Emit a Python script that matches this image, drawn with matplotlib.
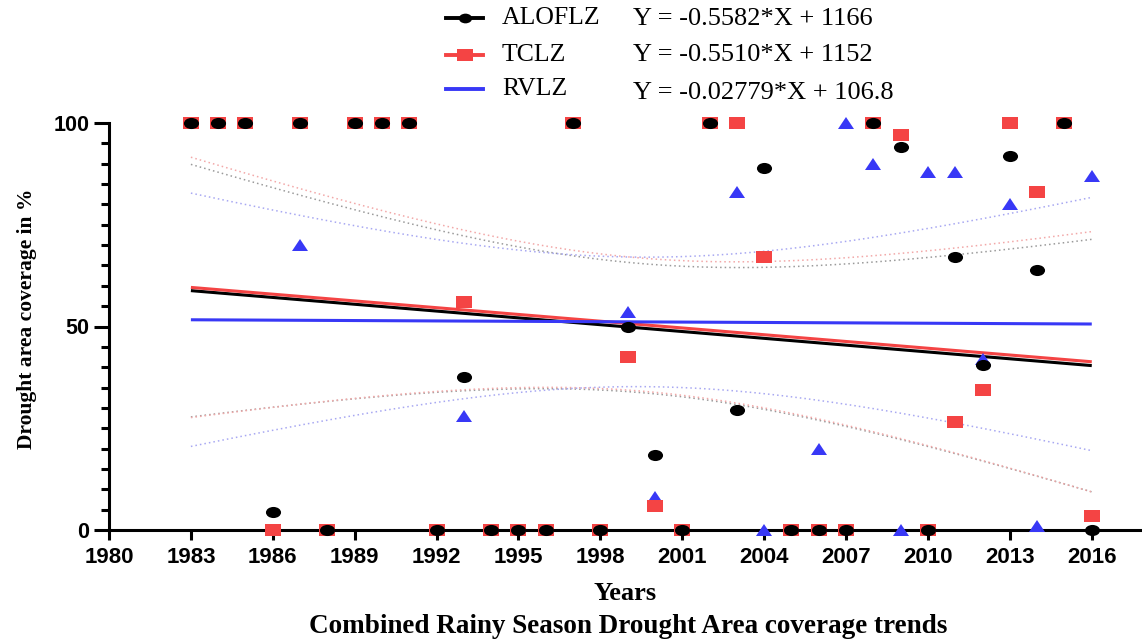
import numpy as np
import matplotlib.pyplot as plt
from matplotlib.lines import Line2D
from matplotlib.markers import MarkerStyle
from matplotlib.transforms import Affine2D
from matplotlib.ticker import MultipleLocator

years = np.arange(1983, 2017)

# ALOFLZ (black circles)
aloflz = [100, 100, 100, 4.5, 100, 0, 100, 100, 100, 0,
          37.5, 0, 0, 0, 100, 0, 50, 18.5, 0, 100,
          29.5, 89, 0, 0, 0, 100, 94, 0, 67, 40.5,
          92, 64, 100, 0]
# TCLZ (red squares)
tclz = [100, 100, 100, 0, 100, 0, 100, 100, 100, 0,
        56, 0, 0, 0, 100, 0, 42.5, 6, 0, 100,
        100, 67, 0, 0, 0, 100, 97, 0, 26.5, 34.5,
        100, 83, 100, 3.5]
# RVLZ (blue triangles)
rvlz = [100, 100, 100, 0, 70, 0, 100, 100, 100, 0,
        28, 0, 0, 0, 100, 0, 53.5, 8, 0, 100,
        83, 0, 0, 20, 100, 90, 0, 88, 88, 42,
        80, 1, 100, 87]

names = ["ALOFLZ", "TCLZ", "RVLZ"]
equations = ["Y = -0.5582*X + 1166", "Y = -0.5510*X + 1152", "Y = -0.02779*X + 106.8"]

black = "#000000"
red = "#F44444"
blue = "#3838F6"
band_cols = ["#9a9a9a", "#F2A8A8", "#A8A8F2"]

serif = "Liberation Serif"
sans = "Liberation Sans"

fig = plt.figure(figsize=(11.42, 6.43), dpi=100)
ax = fig.add_axes([109 / 1142, 113 / 643, 1 - 109 / 1142, 407 / 643])

circ = MarkerStyle("o", transform=Affine2D().scale(1.36, 1.0))
sq = MarkerStyle("s", transform=Affine2D().scale(1.36, 1.0))
tri = MarkerStyle("^", transform=Affine2D().scale(1.3, 1.0))

# regression lines + 95% confidence bands (dotted)
xs = np.linspace(1983, 2016, 200)
t32 = 2.037
series = [aloflz, tclz, rvlz]
cols = [black, red, blue]
for vals, c, bc in zip(series, cols, band_cols):
    y = np.array(vals, dtype=float)
    b, a = np.polyfit(years, y, 1)
    res = y - (a + b * years)
    s = np.sqrt(np.sum(res ** 2) / (len(y) - 2))
    sxx = np.sum((years - years.mean()) ** 2)
    se = s * np.sqrt(1 / len(y) + (xs - years.mean()) ** 2 / sxx)
    fit = a + b * xs
    ax.plot(xs, fit + t32 * se, color=bc, lw=1.1, ls=(0, (1, 2)), zorder=1)
    ax.plot(xs, fit - t32 * se, color=bc, lw=1.1, ls=(0, (1, 2)), zorder=1)
    ax.plot(xs, fit, color=c, lw=2.2, zorder=2, solid_capstyle="butt")

ax.plot(years, rvlz, ls="none", marker=tri, ms=8.5, color=blue, mew=0, clip_on=False, zorder=3)
ax.plot(years, tclz, ls="none", marker=sq, ms=8, color=red, mew=0, clip_on=False, zorder=4)
ax.plot(years, aloflz, ls="none", marker=circ, ms=8, color=black, mew=0, clip_on=False, zorder=5)

ax.set_xlim(1980, 2017.84)
ax.set_ylim(0, 100)
for sp in ["top", "right"]:
    ax.spines[sp].set_visible(False)
for sp in ["left", "bottom"]:
    ax.spines[sp].set_linewidth(2.2)

ax.set_xticks(np.arange(1980, 2017, 3))
ax.set_yticks([0, 50, 100])
ax.yaxis.set_minor_locator(MultipleLocator(5))
ax.tick_params(axis="x", direction="out", length=7, width=2.2, pad=5)
ax.tick_params(axis="y", which="major", direction="out", length=10.8, width=2.2, pad=3.5)
ax.tick_params(axis="y", which="minor", direction="out", length=5.8, width=2.2)
for lab in ax.get_xticklabels():
    lab.set_fontfamily(sans)
    lab.set_fontweight("bold")
    lab.set_fontsize(16)
for lab in ax.get_yticklabels():
    lab.set_fontfamily(sans)
    lab.set_fontweight("bold")
    lab.set_fontsize(15.5)

ax.set_xlabel("Years", fontfamily=serif, fontweight="bold", fontsize=19, labelpad=10)
ax.set_ylabel("Drought area coverage in %", fontfamily=serif, fontweight="bold",
              fontsize=15.5, labelpad=14)
ax.yaxis.set_label_coords(-0.07, 0.52)
fig.text(0.55, 4 / 643, "Combined Rainy Season Drought Area coverage trends",
         ha="center", va="bottom", fontfamily=serif, fontweight="bold", fontsize=19.5)

# legend drawn by hand
rows_y = [18, 55, 89]
eq_y = [19, 55, 93]
leg_markers = [circ, sq, None]
for name, eq, c, m, ry, ey in zip(names, equations, cols, leg_markers, rows_y, eq_y):
    yy = 1 - ry / 643
    ln = Line2D([446 / 1142, 464.5 / 1142, 483 / 1142], [yy, yy, yy], color=c, lw=2.8,
                transform=fig.transFigure)
    if m is not None:
        ln.set_marker(m)
        ln.set_markevery([1])
        ln.set_markersize(7 if c == black else 8)
        ln.set_markeredgewidth(0)
    fig.add_artist(ln)
    fig.text(502 / 1142, yy, name, ha="left", va="center", fontfamily=serif, fontsize=18.5)
    fig.text(633 / 1142, 1 - ey / 643, eq, ha="left", va="center", fontfamily=serif, fontsize=19)

fig.savefig("out.png", dpi=100)
